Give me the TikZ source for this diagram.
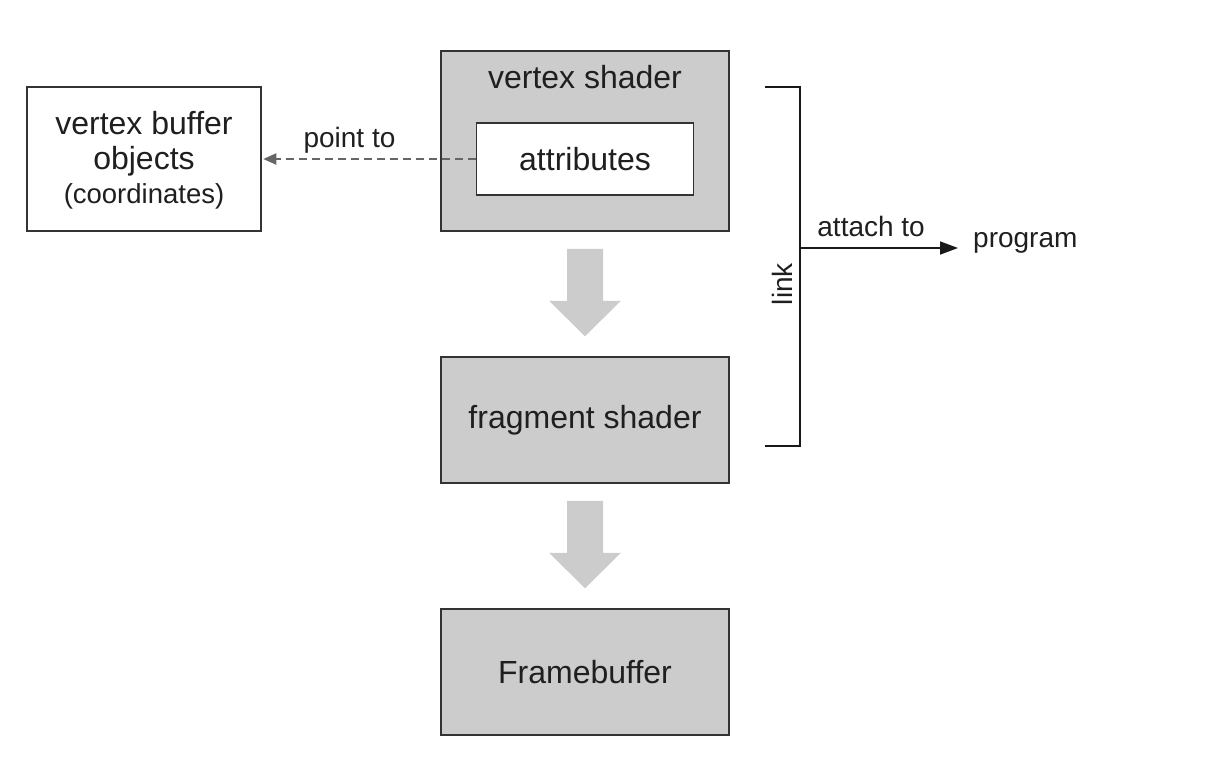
\documentclass[tikz,border=0pt]{standalone}
\usepackage{fontspec}
\setmainfont{Liberation Sans}
\usepackage{xcolor}
\usetikzlibrary{positioning, arrows.meta}
\definecolor{boxgray}{HTML}{CCCCCC}
\definecolor{edgegray}{HTML}{333333}
\definecolor{dashgray}{HTML}{666666}

\begin{document}
\begin{tikzpicture}[x=1pt, y=1pt, node distance=124.5pt, every node/.style={font=\fontsize{32}{35}\selectfont, text=black!88}]
  \tikzstyle{shader} = [rectangle, minimum width=288pt, minimum height=126pt, text centered, draw=edgegray, line width=1.5pt, fill=boxgray]
  \tikzstyle{plainbox} = [rectangle, text centered, draw=edgegray, line width=1.5pt, fill=white]
  \tikzstyle{smalltext} = [font=\fontsize{28}{31}\selectfont]
  \tikzstyle{lbl} = [smalltext, inner sep=0pt]
  \tikzstyle{arrow} = [line width=1.5pt, black!90, -{Triangle[length=18pt, width=13pt]}]
  \tikzstyle{dasharrow} = [line width=2pt, dashgray, dash pattern=on 8pt off 5pt, -{Triangle[length=13pt, width=11pt]}, shorten >=1.5pt]
  \tikzstyle{bracket} = [line width=1.5pt, black!90]
  \tikzstyle{blockarrow} = [fill=boxgray]

  \useasboundingbox (0,0) rectangle (1212,-782);

  \node (vs) [shader, minimum height=180pt] at (585,-141) {};
  \node (vstext) at ([yshift=-27pt]vs.north) {vertex shader};
  \node (attr) [plainbox, minimum width=217pt, minimum height=72pt] at ([yshift=-18pt]vs.center) {attributes};
  \node (fs) [shader, below=of vs] {fragment shader};
  \node (fb) [shader, below=of fs] {Framebuffer};
  \node (vbo) [plainbox, minimum width=234pt, minimum height=144pt, align=center, text depth=4pt] at (144,-159)
    {vertex buffer\\objects\\[-1pt]{\fontsize{27.5}{30}\selectfont (coordinates)}};
  \node (prog) [smalltext, anchor=west, inner xsep=15pt, inner ysep=0pt] at (958,-243) {program};

  \coordinate (lt) at (765,-87);
  \coordinate (lb) at (765,-446);
  \coordinate (att) at (800,-248);

  % big gray arrows between the stages
  \foreach \s/\e in {vs/fs, fs/fb} {
    \fill [blockarrow] ([shift={(-18pt,-17pt)}]\s.south) -- ([shift={(18pt,-17pt)}]\s.south)
      -- ([shift={(18pt,-69pt)}]\s.south) -- ([shift={(36pt,-69pt)}]\s.south)
      -- ([yshift=20pt]\e.north)
      -- ([shift={(-36pt,-69pt)}]\s.south) -- ([shift={(-18pt,-69pt)}]\s.south) -- cycle;
  }

  \draw [dasharrow] (attr.west) -- node [lbl, pos=0.59, above=5pt] {point to} (vbo.east);
  \draw [bracket] (lt) -| (att) |- (lb);
  \node (linktext) [lbl, rotate=90] at (782,-284) {link};
  \draw [arrow] (att) -- node [lbl, pos=0.45, above=10pt] {attach to} (att -| prog.west);
\end{tikzpicture}
\end{document}
